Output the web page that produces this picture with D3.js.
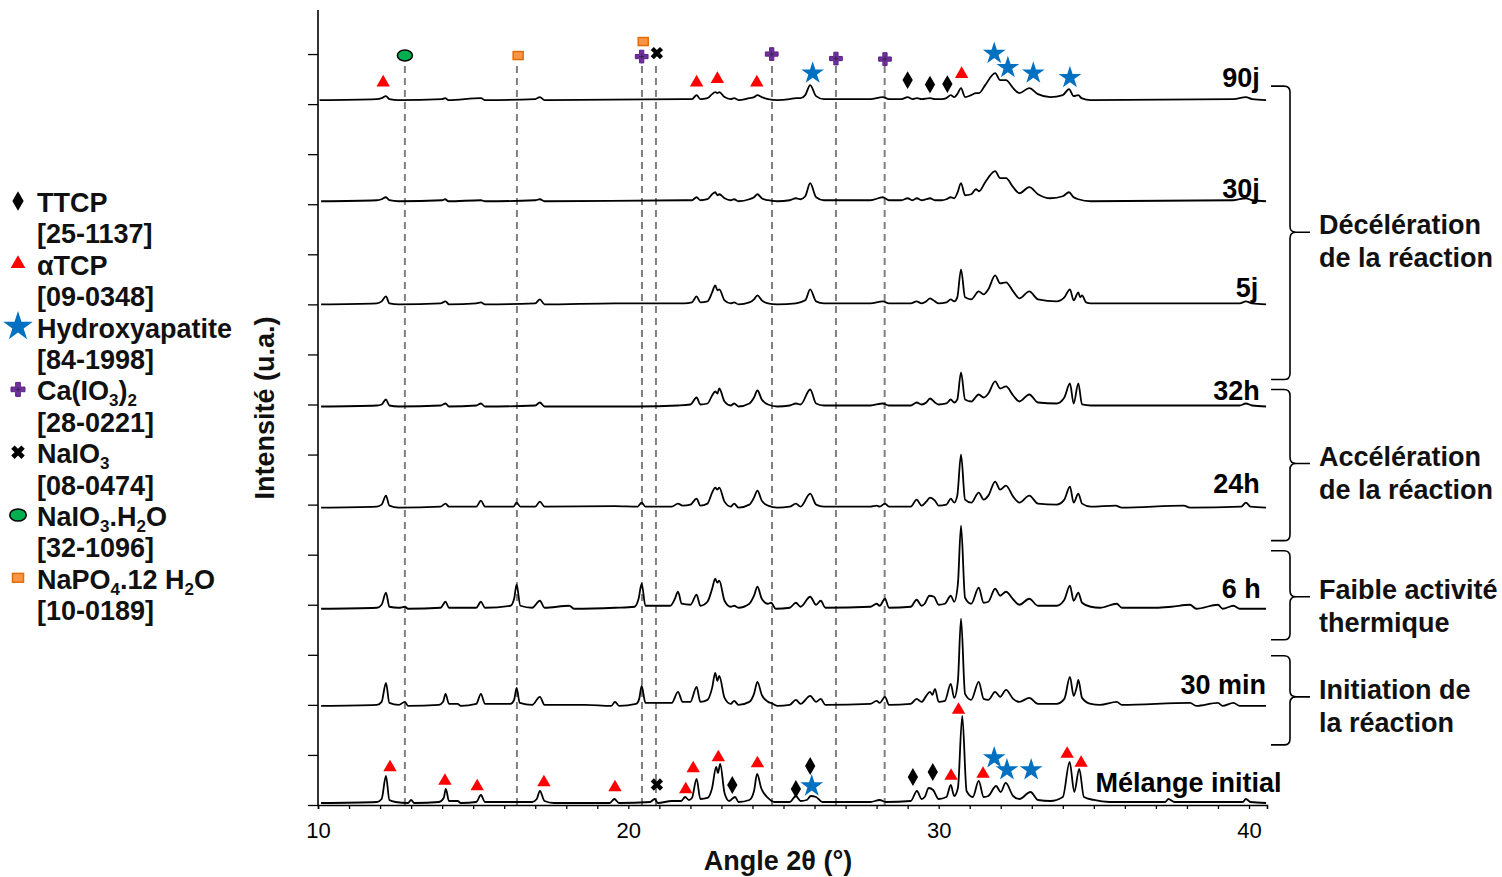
<!DOCTYPE html>
<html><head><meta charset="utf-8">
<script src="https://cdn.jsdelivr.net/npm/d3@7"></script>
<style>body{margin:0;background:#fff} svg{display:block}</style>
</head><body>
<svg id="c" width="1502" height="877"></svg>
<script>
// ---------------- DATA ----------------
const xTicks = [10, 20, 30, 40];
const traceNames = ["Mélange initial", "30 min", "6 h", "24h", "32h", "5j", "30j", "90j"];
const traceOffsets = [4, 198, 392, 594, 796, 1000, 1206, 1408];

const trInitial = [[10.1,0],[11.9,2],[12.05,8],[12.19,54],[12.3,6],[12.5,2],[12.9,0],[13.0,6],[13.1,0],[13.9,2],[14.05,10],[14.12,28],[14.22,4],[14.5,4],[14.6,0],[15.1,2],[15.25,16],[15.38,2],[16.9,2],[17.05,8],[17.15,24],[17.3,4],[17.6,0],[19.4,0],[19.55,8],[19.7,0],[20.7,2],[20.85,8],[20.95,0],[21.4,4],[21.7,4],[21.83,12],[21.95,6],[22.05,10],[22.2,48],[22.32,8],[22.55,10],[22.7,30],[22.83,72],[22.89,60],[22.96,78],[23.1,20],[23.25,4],[23.44,12],[23.55,2],[23.9,6],[24.05,24],[24.15,58],[24.28,30],[24.5,10],[24.7,2],[25.2,2],[25.4,14],[25.55,4],[25.75,6],[25.88,14],[26.05,12],[26.25,2],[27.8,2],[28.1,6],[28.3,2],[29.1,4],[29.3,24],[29.45,8],[29.55,12],[29.68,30],[29.82,26],[30.0,8],[30.25,12],[30.39,36],[30.5,14],[30.62,30],[30.76,174],[30.9,24],[31.1,12],[31.29,44],[31.45,12],[31.6,14],[31.85,34],[32.0,22],[32.16,40],[32.4,14],[32.6,8],[32.96,22],[33.2,6],[33.6,4],[34.0,12],[34.22,82],[34.37,22],[34.53,68],[34.68,12],[35.0,6],[35.5,2],[37.3,2],[37.4,8],[37.6,2],[39.8,2],[39.9,8],[40.05,2],[40.55,0]];
const tr30min = [[10.1,0],[11.9,2],[12.05,8],[12.19,46],[12.3,6],[12.6,2],[12.8,8],[12.9,0],[13.9,2],[14.03,8],[14.11,24],[14.22,4],[14.5,4],[14.6,0],[15.1,4],[15.25,24],[15.38,4],[16.2,4],[16.32,12],[16.4,36],[16.5,6],[16.9,2],[17.15,18],[17.3,2],[18.1,2],[18.6,2],[19.45,0],[19.57,8],[19.7,0],[20.25,4],[20.35,14],[20.43,40],[20.55,6],[21.4,6],[21.6,28],[21.75,8],[22.0,8],[22.2,38],[22.32,8],[22.55,12],[22.7,36],[22.8,66],[22.87,50],[22.93,60],[23.1,16],[23.3,4],[23.41,10],[23.55,2],[23.9,8],[24.05,24],[24.16,48],[24.3,22],[24.5,8],[24.6,6],[24.8,0],[25.2,2],[25.4,12],[25.55,4],[25.86,20],[26.05,8],[26.2,14],[26.35,2],[27.8,4],[28.0,10],[28.1,6],[28.27,18],[28.4,2],[29.1,4],[29.29,14],[29.45,8],[29.6,20],[29.72,28],[29.8,22],[29.88,34],[30.0,8],[30.2,10],[30.39,44],[30.5,16],[30.62,50],[30.72,174],[30.85,24],[31.05,12],[31.29,48],[31.45,14],[31.6,12],[31.82,28],[31.98,18],[32.17,32],[32.4,14],[32.6,8],[32.92,16],[33.2,4],[33.8,4],[34.05,14],[34.23,58],[34.35,20],[34.45,38],[34.5,52],[34.62,16],[34.9,4],[35.2,2],[35.74,8],[35.9,2],[38.1,6],[38.3,0],[39.0,6],[39.15,0],[39.5,6],[39.7,0],[40.55,0]];
const tr6h = [[10.1,0],[11.9,2],[12.05,8],[12.19,32],[12.3,4],[12.6,2],[12.8,4],[12.9,0],[13.95,2],[14.11,14],[14.22,2],[15.1,2],[15.25,14],[15.38,2],[16.2,6],[16.32,20],[16.4,48],[16.52,6],[16.9,2],[17.15,16],[17.3,2],[18.1,6],[18.25,0],[19.57,2],[20.2,4],[20.33,20],[20.43,50],[20.55,6],[21.35,6],[21.5,20],[21.6,34],[21.72,10],[22.0,8],[22.2,28],[22.32,6],[22.55,14],[22.7,40],[22.8,60],[22.87,52],[22.93,56],[23.1,16],[23.3,4],[23.41,6],[23.55,2],[23.9,10],[24.05,26],[24.16,44],[24.3,20],[24.5,10],[24.6,12],[24.75,0],[25.2,2],[25.4,12],[25.55,4],[25.86,24],[26.05,8],[26.2,16],[26.35,2],[27.8,4],[28.0,10],[28.1,6],[28.27,20],[28.4,2],[29.1,4],[29.29,18],[29.45,6],[29.55,10],[29.7,26],[29.85,24],[30.0,8],[30.2,10],[30.39,26],[30.5,14],[30.62,50],[30.72,166],[30.85,22],[31.05,10],[31.29,42],[31.45,12],[31.6,14],[31.82,40],[31.98,26],[32.17,34],[32.41,18],[32.6,8],[32.92,20],[33.2,6],[33.8,6],[34.05,18],[34.23,46],[34.35,16],[34.5,32],[34.62,12],[34.9,4],[35.2,2],[35.74,10],[35.9,2],[37.0,2],[37.5,4],[38.1,8],[38.3,0],[39.0,8],[39.15,0],[39.5,6],[39.7,0],[40.55,0]];
const tr24h = [[10.1,0],[11.9,2],[12.05,6],[12.19,24],[12.3,4],[12.6,0],[13.95,2],[14.11,8],[14.22,2],[15.1,2],[15.25,14],[15.38,2],[16.3,2],[16.4,10],[16.52,2],[17.0,2],[17.15,12],[17.3,2],[19.57,3],[20.3,2],[20.43,10],[20.55,2],[21.4,2],[21.6,8],[21.75,4],[22.0,6],[22.2,18],[22.32,4],[22.55,8],[22.7,30],[22.8,40],[22.87,36],[22.93,40],[23.1,12],[23.3,2],[23.41,8],[23.55,0],[23.9,6],[24.05,20],[24.16,34],[24.3,14],[24.5,4],[24.8,0],[25.2,2],[25.4,8],[25.55,2],[25.86,28],[26.05,6],[26.3,2],[27.8,2],[28.0,4],[28.1,2],[28.27,8],[28.4,2],[29.1,2],[29.29,16],[29.45,4],[29.6,12],[29.72,20],[29.88,14],[30.0,4],[30.25,6],[30.39,18],[30.5,10],[30.6,24],[30.72,106],[30.85,16],[31.05,10],[31.29,30],[31.45,16],[31.6,24],[31.82,52],[31.98,36],[32.17,44],[32.4,22],[32.6,10],[32.92,24],[33.2,8],[33.8,6],[34.05,16],[34.23,42],[34.35,10],[34.5,28],[34.62,8],[34.9,2],[35.7,4],[35.9,0],[37.9,4],[38.1,0],[39.75,2],[39.9,10],[40.05,2],[40.55,0]];
const tr32h = [[10.1,0],[11.9,2],[12.05,4],[12.19,14],[12.3,2],[12.6,0],[13.95,2],[14.11,6],[14.22,0],[15.1,2],[15.25,6],[15.38,0],[17.0,2],[17.15,8],[17.3,0],[20.3,0],[21.6,2],[22.0,4],[22.2,18],[22.32,4],[22.55,6],[22.7,22],[22.8,30],[22.87,26],[22.93,36],[23.1,10],[23.3,2],[23.41,6],[23.55,0],[23.9,6],[24.05,18],[24.16,32],[24.3,14],[24.5,4],[24.8,0],[25.2,2],[25.4,6],[25.55,4],[25.86,34],[26.05,6],[26.3,2],[27.8,2],[28.2,6],[28.4,2],[29.1,2],[29.29,8],[29.45,4],[29.6,8],[29.72,16],[29.88,8],[30.0,4],[30.25,6],[30.39,14],[30.5,8],[30.6,14],[30.72,68],[30.85,14],[31.05,10],[31.29,24],[31.45,18],[31.6,26],[31.82,50],[31.98,36],[32.17,40],[32.4,22],[32.6,10],[32.92,24],[33.2,8],[33.8,6],[34.05,18],[34.23,46],[34.35,6],[34.5,46],[34.62,4],[34.9,2],[35.7,2],[39.7,2],[39.9,6],[40.1,2],[40.55,0]];
const tr5j = [[10.1,0],[11.9,2],[12.05,6],[12.19,16],[12.3,2],[12.6,0],[13.95,2],[14.11,6],[14.22,0],[15.1,2],[15.25,4],[15.38,0],[17.0,2],[17.15,10],[17.3,0],[19.57,2],[21.8,2],[22.05,4],[22.2,16],[22.32,4],[22.55,6],[22.7,24],[22.8,38],[22.87,28],[22.93,30],[23.1,8],[23.3,2],[23.41,4],[23.55,0],[23.9,4],[24.05,10],[24.16,18],[24.3,8],[24.5,2],[24.8,0],[25.4,2],[25.7,8],[25.86,30],[26.05,6],[26.3,2],[27.8,2],[28.2,6],[28.4,2],[29.1,2],[29.29,6],[29.45,2],[29.6,6],[29.72,12],[29.88,6],[30.0,2],[30.25,4],[30.39,10],[30.5,6],[30.6,14],[30.72,70],[30.85,14],[31.05,10],[31.29,26],[31.45,20],[31.6,30],[31.82,58],[31.98,42],[32.17,44],[32.4,26],[32.6,12],[32.92,26],[33.2,10],[33.8,6],[34.05,14],[34.23,30],[34.35,8],[34.5,24],[34.56,14],[34.62,18],[34.75,4],[34.9,2],[37.9,2],[39.7,2],[39.9,6],[40.1,2],[40.55,0]];
const tr30j = [[10.1,0],[11.9,2],[12.05,4],[12.19,8],[12.3,2],[12.6,0],[14.0,2],[14.1,4],[14.2,0],[15.25,2],[15.38,0],[17.0,2],[17.15,4],[17.3,0],[21.8,2],[22.05,2],[22.2,8],[22.32,2],[22.55,4],[22.7,14],[22.8,18],[22.87,12],[22.93,14],[23.1,6],[23.3,2],[23.41,4],[23.55,0],[23.9,4],[24.05,8],[24.16,14],[24.3,6],[24.5,2],[24.8,0],[25.2,2],[25.4,6],[25.55,4],[25.7,10],[25.86,36],[26.05,8],[26.3,2],[27.8,2],[28.2,8],[28.4,2],[28.8,2],[29.0,6],[29.15,2],[29.3,6],[29.45,2],[29.6,4],[29.72,6],[29.88,2],[30.1,2],[30.25,4],[30.39,8],[30.5,6],[30.6,16],[30.72,36],[30.85,12],[31.05,14],[31.2,24],[31.3,20],[31.5,38],[31.82,60],[31.98,46],[32.17,46],[32.4,28],[32.6,16],[32.92,28],[33.2,14],[33.6,6],[34.0,10],[34.2,18],[34.35,8],[34.5,4],[34.9,0],[39.5,2],[39.9,6],[40.1,2],[40.55,0]];
const tr90j = [[10.05,0],[11.9,2],[12.05,4],[12.19,8],[12.3,2],[12.6,0],[14.0,2],[14.1,4],[14.2,0],[15.25,4],[15.38,0],[17.0,2],[17.15,6],[17.3,0],[21.8,2],[22.05,2],[22.2,10],[22.32,2],[22.55,4],[22.7,12],[22.8,16],[22.87,14],[22.93,16],[23.1,6],[23.3,2],[23.41,4],[23.55,0],[23.9,4],[24.05,6],[24.16,10],[24.3,6],[24.5,2],[24.8,0],[25.2,2],[25.4,4],[25.55,4],[25.7,10],[25.86,30],[26.05,8],[26.3,2],[27.8,2],[28.2,6],[28.4,2],[28.8,2],[29.0,6],[29.15,2],[29.3,4],[29.45,2],[29.72,4],[29.88,2],[30.1,2],[30.25,4],[30.39,10],[30.5,6],[30.6,12],[30.72,24],[30.85,6],[31.05,10],[31.2,14],[31.3,14],[31.5,30],[31.82,54],[31.98,40],[32.17,40],[32.4,24],[32.6,14],[32.92,24],[33.2,12],[33.6,6],[34.0,10],[34.2,22],[34.35,8],[34.5,10],[34.6,4],[34.9,0],[39.5,2],[39.9,6],[40.1,2],[40.55,0]];
const traces = [trInitial, tr30min, tr6h, tr24h, tr32h, tr5j, tr30j, tr90j];

const phaseNames = ["TTCP", "αTCP", "Hydroxyapatite", "Ca(IO3)2", "NaIO3", "NaIO3.H2O", "NaPO4.12 H2O"];
const phaseRefs = ["[25-1137]", "[09-0348]", "[84-1998]", "[28-0221]", "[08-0474]", "[32-1096]", "[10-0189]"];
// [phase index, angle 2θ, intensity]
const marksTop = [[1,12.10,1443],[5,12.80,1497],[6,16.45,1497],[6,20.48,1525],[3,20.43,1495],[4,20.92,1502],[1,22.20,1443],[1,22.87,1450],[1,24.14,1443],[3,24.62,1500],[2,25.94,1462],[3,26.69,1491],[3,28.27,1490],[0,29.00,1448],[0,29.72,1439],[0,30.28,1440],[1,30.74,1460],[2,31.79,1501],[2,32.23,1473],[2,33.05,1462],[2,34.23,1453]];
const marksBottom = [[1,12.32,75],[1,14.09,48],[1,15.13,37],[1,17.28,45],[1,19.57,35],[4,20.92,41],[1,21.85,31],[1,22.09,73],[1,22.90,95],[0,23.35,40],[1,24.16,83],[0,25.40,32],[0,25.86,78],[2,25.91,38],[0,29.17,56],[0,29.81,66],[1,30.40,58],[1,30.64,190],[1,31.43,62],[2,31.79,94],[2,32.20,70],[2,32.98,70],[1,34.14,102],[1,34.59,84]];
const refLineAngles = [12.80, 16.41, 20.44, 20.89, 24.63, 26.69, 28.26];
const stageLabels = [["Décélération","de la réaction"],["Accélération","de la réaction"],["Faible activité","thermique"],["Initiation de","la réaction"]];
// brace spans in intensity units: [top, bottom, tip]
const stageSpans = [[1436,850,1144],[830,528,682],[508,330,416],[298,120,216]];

// ---------------- LAYOUT ----------------
const FONT = "'Liberation Sans', Arial, Helvetica, sans-serif";
const FS = 27;
const svg = d3.select("#c");
const x = d3.scaleLinear().domain([10, 40.58]).range([318, 1267]);
const y = d3.scaleLinear().domain([0, 1588]).range([805, 10]);

const phaseStyle = [
  {sym: d3.symbolDiamond, size: 92, fill: "#000", stroke: "none"},
  {sym: d3.symbolTriangle, size: 78, fill: "#ff0000", stroke: "none"},
  {sym: d3.symbolStar, size: 160, fill: "#0070c0", stroke: "none"},
  {sym: d3.symbolCross, size: 90, fill: "#7030a0", stroke: "#5a2480"},
  {sym: d3.symbolCross, size: 95, fill: "#000", stroke: "none", rot: 45},
  {ellipse: true, fill: "#00b050", stroke: "#000"},
  {rect: true, fill: "#f79646", stroke: "#e36c09"}
];

function drawMarker(g, p, cx, cy, scale) {
  const s = phaseStyle[p];
  scale = scale || 1;
  if (s.ellipse) {
    g.append("ellipse").attr("cx", cx).attr("cy", cy).attr("rx", 7.5*scale).attr("ry", 5.5*scale)
      .attr("fill", s.fill).attr("stroke", s.stroke).attr("stroke-width", 1.5);
  } else if (s.rect) {
    g.append("rect").attr("x", cx - 5*scale).attr("y", cy - 4*scale).attr("width", 10*scale).attr("height", 8*scale)
      .attr("fill", s.fill).attr("stroke", s.stroke).attr("stroke-width", 1.5);
  } else {
    g.append("path").attr("d", d3.symbol().type(s.sym).size(s.size*scale*scale)())
      .attr("transform", `translate(${cx},${cy}) rotate(${s.rot||0})`)
      .attr("fill", s.fill).attr("stroke", s.stroke).attr("stroke-width", s.stroke === "none" ? 0 : 1);
    if (p === 3) {
      g.append("path").attr("d", `M${cx-2.5},${cy}H${cx+2.5}M${cx},${cy-2.5}V${cy+2.5}`).attr("stroke", "#222").attr("stroke-width", 0.7);
    }
  }
}

// reference dashed lines
svg.append("g").selectAll("line").data(refLineAngles).join("line")
  .attr("x1", d => x(d)).attr("x2", d => x(d))
  .attr("y1", y(0)).attr("y2", y(1476))
  .attr("stroke", "#808080").attr("stroke-width", 2).attr("stroke-dasharray", "7,5");

// axes
const xAxis = d3.axisBottom(x).tickValues(d3.range(10, 41, 1)).tickSize(4).tickPadding(13)
  .tickFormat(d => xTicks.includes(d) ? d : "");
const gx = svg.append("g").attr("transform", `translate(0,${y(0)})`).call(xAxis);
gx.select(".domain").attr("stroke", "#000").attr("stroke-width", 1.6);
gx.selectAll(".tick line").attr("stroke", "#000").attr("stroke-width", 1.3);
gx.selectAll("text").attr("font-family", FONT).attr("font-size", 22).attr("fill", "#000");

const yAxis = d3.axisLeft(y).tickValues(d3.range(0, 1501, 100)).tickSize(10).tickFormat("");
const gy = svg.append("g").attr("transform", `translate(${x(10)},0)`).call(yAxis);
gy.select(".domain").attr("stroke", "#000").attr("stroke-width", 1.6).attr("d", `M0,${y(1588)}V${y(0)}`);
gy.selectAll(".tick line").attr("stroke", "#000").attr("stroke-width", 1.3);

// traces
const line = d3.line().curve(d3.curveMonotoneX);
traces.forEach((tr, i) => {
  svg.append("path")
    .attr("d", line(tr.map(d => [x(d[0]), y(d[1] + traceOffsets[i])])))
    .attr("fill", "none").attr("stroke", "#000").attr("stroke-width", 1.8).attr("stroke-linejoin", "round");
});

// trace labels
const labelAnchor = [[41.05, 22], [40.55, 24], [40.38, 22], [40.35, 30], [40.35, 12], [40.3, 14], [40.35, 6], [40.35, 26]];
traceNames.forEach((n, i) => {
  svg.append("text").attr("x", x(labelAnchor[i][0])).attr("y", y(traceOffsets[i] + labelAnchor[i][1]))
    .attr("text-anchor", "end").attr("font-family", FONT).attr("font-weight", "bold").attr("font-size", FS)
    .attr("fill", "#000").text(n);
});

// markers
const gm = svg.append("g");
marksTop.concat(marksBottom).forEach(m => drawMarker(gm, m[0], x(m[1]), y(m[2])));

// braces
const xb0 = 1271, xbv = 1290, xbt = 1310, rb = 6;
stageSpans.forEach((s, i) => {
  const t = y(s[0]), b = y(s[1]), m = y(s[2]);
  const d = `M${xb0},${t}H${xbv-rb}Q${xbv},${t} ${xbv},${t+rb}V${m-rb}Q${xbv},${m} ${xbv+rb},${m}H${xbt}` +
            `M${xbv+rb},${m}Q${xbv},${m} ${xbv},${m+rb}V${b-rb}Q${xbv},${b} ${xbv-rb},${b}H${xb0}`;
  svg.append("path").attr("d", d).attr("fill", "none").attr("stroke", "#000").attr("stroke-width", 1.6);
  stageLabels[i].forEach((ln, k) => {
    svg.append("text").attr("x", 1319).attr("y", m + 2 + k*33)
      .attr("font-family", FONT).attr("font-weight", "bold").attr("font-size", FS).attr("fill", "#111").text(ln);
  });
});

// axis titles
svg.append("text").attr("x", 778).attr("y", 870).attr("text-anchor", "middle")
  .attr("font-family", FONT).attr("font-weight", "bold").attr("font-size", FS).attr("fill", "#111")
  .text("Angle 2θ (°)");
svg.append("text").attr("transform", `translate(274,408) rotate(-90)`).attr("text-anchor", "middle")
  .attr("font-family", FONT).attr("font-weight", "bold").attr("font-size", FS).attr("fill", "#111")
  .text("Intensité (u.a.)");

// legend
function richText(sel, str) {
  let prev = "", sub = false, buf = "";
  const parts = [];
  for (const ch of str) {
    let isSub;
    if (/[0-9]/.test(ch)) isSub = /[0-9]/.test(prev) ? sub : /[A-Za-z)]/.test(prev);
    else isSub = false;
    if (isSub !== sub && buf) { parts.push([buf, sub]); buf = ""; }
    sub = isSub; buf += ch; prev = ch;
  }
  if (buf) parts.push([buf, sub]);
  let shift = 0;
  parts.forEach(p => {
    const t = sel.append("tspan").text(p[0]);
    const target = p[1] ? 6 : 0;
    if (p[1]) t.attr("font-size", 17);
    t.attr("dy", target - shift);
    shift = target;
  });
}
const gl = svg.append("g");
phaseNames.forEach((n, i) => {
  const b1 = 212 + i * 62.8, b2 = b1 + 31.4;
  drawMarker(gl, i, 18, b1 - 11, i === 2 ? 1.3 : 1.1);
  const t = gl.append("text").attr("x", 37).attr("y", b1).attr("font-family", FONT).attr("font-weight", "bold")
    .attr("font-size", FS).attr("fill", "#111");
  richText(t, n);
  gl.append("text").attr("x", 37).attr("y", b2).attr("font-family", FONT).attr("font-weight", "bold")
    .attr("font-size", FS).attr("fill", "#111").text(phaseRefs[i]);
});
</script>
</body></html>
